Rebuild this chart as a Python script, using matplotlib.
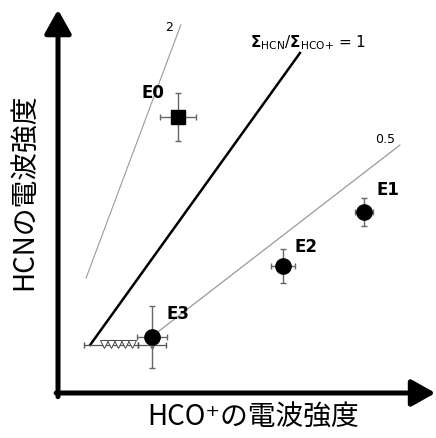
import numpy as np
import matplotlib.pyplot as plt

plt.rcParams['font.family'] = ['Noto Sans CJK JP', 'DejaVu Sans']

# measured sources (arbitrary intensity units)
names = ['E0', 'E1', 'E2', 'E3']
hco = [3.24, 8.27, 6.08, 2.54]
hcn = [7.46, 4.89, 3.43, 1.51]
hco_err = [0.49, 0.24, 0.32, 0.41]
hcn_err = [0.65, 0.38, 0.46, 0.84]
label_x = [2.57, 8.92, 6.70, 3.24]
label_y = [8.11, 5.49, 3.95, 2.14]

# faint sources (upper limits) piled up near the origin
lim_x = [1.24, 1.43, 1.62, 1.81, 2.00, 2.54]
lim_y = [1.32, 1.32, 1.32, 1.32, 1.32, 1.30]
lim_bar_x = [1.43, 2.54]
lim_bar_y = [1.30, 1.30]
lim_bar_err = [0.73, 0.38]

# ratio guide lines: (x0, y0, x1, y1)
ratio_names = ['2', '1', '0.5']
ratio_lines = [(0.76, 3.11, 3.32, 9.95),
               (0.87, 1.30, 6.54, 9.19),
               (2.49, 1.49, 9.24, 6.70)]

fig = plt.figure(figsize=(4.36, 4.38), dpi=100)
ax = fig.add_axes([58/436, 45/438, 370/436, 370/438])
ax.set_xlim(0, 10)
ax.set_ylim(0, 10)
ax.axis('off')

# guide lines
x0, y0, x1, y1 = ratio_lines[0]
ax.plot([x0, x1], [y0, y1], color='#999999', lw=0.8, zorder=1)
x0, y0, x1, y1 = ratio_lines[1]
ax.plot([x0, x1], [y0, y1], color='black', lw=1.8, zorder=1)
x0, y0, x1, y1 = ratio_lines[2]
ax.plot([x0, x1], [y0, y1], color='#999999', lw=0.9, zorder=1)

ax.text(3.0, 9.89, ratio_names[0], fontsize=9, ha='center', va='center',
        family='DejaVu Sans')
ax.text(8.84, 6.84, ratio_names[2], fontsize=9, ha='center', va='center',
        family='DejaVu Sans')
ax.text(5.2, 9.46, r'$\mathbf{\Sigma}_{\mathrm{HCN}}/\mathbf{\Sigma}_{\mathrm{HCO{+}}}$ = ' + ratio_names[1],
        fontsize=11, ha='left', va='center', family='DejaVu Sans')

# upper limits
ax.errorbar(lim_bar_x, lim_bar_y, xerr=lim_bar_err, fmt='none', ecolor='#555555',
            elinewidth=0.9, capsize=2, zorder=2)
ax.plot(lim_x, lim_y, 'v', ms=5.5, mfc='white', mec='#444444', mew=0.7, zorder=2)

# sources
ax.errorbar(hco[:1], hcn[:1], xerr=hco_err[:1], yerr=hcn_err[:1], fmt='s', ms=10,
            color='black', ecolor='#666666', elinewidth=1, capsize=2.5, zorder=3)
ax.errorbar(hco[1:], hcn[1:], xerr=hco_err[1:], yerr=hcn_err[1:], fmt='o', ms=11,
            color='black', ecolor='#666666', elinewidth=1, capsize=2.5, zorder=3)
for n, lx, ly in zip(names, label_x, label_y):
    ax.text(lx, ly, n, fontsize=12, ha='center', va='center', family='DejaVu Sans',
            fontweight='bold')

# axes arrows
arrow = dict(arrowstyle='-|>,head_length=0.8,head_width=0.45', color='black',
             lw=3.6, shrinkA=0, shrinkB=0, mutation_scale=18)
ax.annotate('', xy=(10.2, 0), xytext=(-0.05, 0), arrowprops=arrow, annotation_clip=False)
ax.annotate('', xy=(0, 10.36), xytext=(0, -0.1), arrowprops=arrow, annotation_clip=False)

fig.text(253/436, 1 - 418/438, 'HCO⁺の電波強度', fontsize=20, ha='center', va='center')
fig.text(25/436, 1 - 192/438, 'HCNの電波強度', fontsize=20, ha='center', va='center',
         rotation=90)

fig.savefig('out.png', dpi=100)
